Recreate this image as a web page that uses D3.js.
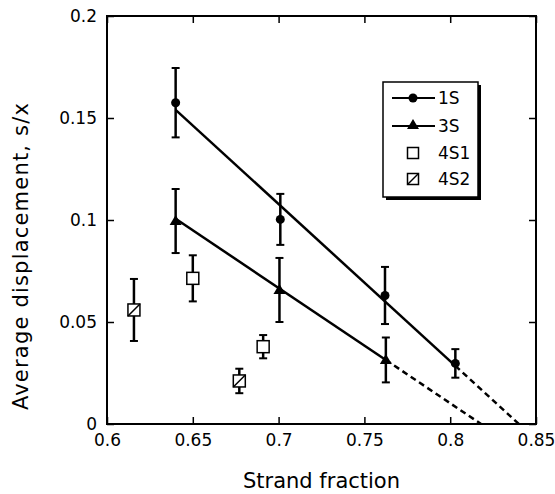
<!DOCTYPE html>
<html>
<head>
<meta charset="utf-8">
<script src="https://cdn.jsdelivr.net/npm/d3@7"></script>
<style>
  body { margin: 0; background: #fff; }
  svg { display: block; font-family: "DejaVu Sans", sans-serif; }
</style>
</head>
<body>
<svg id="chart" width="555" height="494"></svg>
<script>
// Data
const strand1S = [0.640, 0.701, 0.762, 0.803];
const disp1S = [0.1575, 0.1003, 0.063, 0.0297];
const err1S = [0.017, 0.0125, 0.014, 0.007];

const strand3S = [0.640, 0.7005, 0.7625];
const disp3S = [0.0995, 0.0657, 0.0314];
const err3S = [0.0157, 0.0157, 0.011];

const strand4S1 = [0.650, 0.691];
const disp4S1 = [0.0714, 0.0379];
const err4S1 = [0.0113, 0.0057];

const strand4S2 = [0.6157, 0.6771];
const disp4S2 = [0.0559, 0.0211];
const err4S2 = [0.0152, 0.006];

// fitted lines: solid part then dashed extrapolation to zero
const fit1SX = [0.640, 0.803, 0.840];
const fit1SY = [0.154, 0.0285, 0];
const fit3SX = [0.640, 0.7625, 0.818];
const fit3SY = [0.1006, 0.0314, 0];

const xTicks = [0.6, 0.65, 0.7, 0.75, 0.8, 0.85];
const yTicks = [0, 0.05, 0.1, 0.15, 0.2];
const legendNames = ['1S', '3S', '4S1', '4S2'];

(function() {
    const svg = d3.select('#chart');
    const margin = { top: 16, right: 19, bottom: 70, left: 107 };
    const plotWidth = 555 - margin.left - margin.right;
    const plotHeight = 494 - margin.top - margin.bottom;

    const g = svg.append('g')
        .attr('transform', `translate(${margin.left}, ${margin.top})`);

    const xScale = d3.scaleLinear().domain([0.6, 0.85]).range([0, plotWidth]);
    const yScale = d3.scaleLinear().domain([0, 0.2]).range([plotHeight, 0]);

    const fmt = d => d === 0 ? '0' : String(+d.toFixed(2));

    // axes, ticks pointing inward
    const styleAxis = (sel) => {
        sel.select('.domain').remove();
        sel.selectAll('.tick line').attr('stroke', '#000').attr('stroke-width', 1.5);
        sel.selectAll('text').attr('font-size', '17px').attr('fill', '#000')
            .attr('font-family', '"DejaVu Sans", sans-serif');
    };

    g.append('g')
        .attr('transform', `translate(0, ${plotHeight})`)
        .call(d3.axisBottom(xScale).tickValues(xTicks).tickFormat(fmt).tickSize(-7).tickPadding(10))
        .call(styleAxis);

    g.append('g')
        .call(d3.axisLeft(yScale).tickValues(yTicks).tickFormat(fmt).tickSize(-7).tickPadding(10))
        .call(styleAxis);

    g.append('g')
        .call(d3.axisTop(xScale).tickValues(xTicks).tickFormat('').tickSize(-7))
        .call(styleAxis);

    g.append('g')
        .attr('transform', `translate(${plotWidth}, 0)`)
        .call(d3.axisRight(yScale).tickValues(yTicks).tickFormat('').tickSize(-7))
        .call(styleAxis);

    g.append('rect')
        .attr('width', plotWidth)
        .attr('height', plotHeight)
        .attr('fill', 'none')
        .attr('stroke', '#000')
        .attr('stroke-width', 2);

    // axis labels
    g.append('text')
        .attr('x', plotWidth / 2)
        .attr('y', plotHeight + 64)
        .attr('text-anchor', 'middle')
        .attr('font-size', '21px')
        .text('Strand fraction');

    g.append('text')
        .attr('transform', 'rotate(-90)')
        .attr('x', -240)
        .attr('y', -79)
        .attr('text-anchor', 'middle')
        .attr('font-size', '21px')
        .attr('letter-spacing', '1.2px')
        .text('Average displacement, s/x');

    // fit lines
    const line = d3.line().x(d => xScale(d[0])).y(d => yScale(d[1]));
    [[fit1SX, fit1SY], [fit3SX, fit3SY]].forEach(([xs, ys]) => {
        g.append('path')
            .attr('d', line([[xs[0], ys[0]], [xs[1], ys[1]]]))
            .attr('fill', 'none').attr('stroke', '#000').attr('stroke-width', 2.5);
        g.append('path')
            .attr('d', line([[xs[1], ys[1]], [xs[2], ys[2]]]))
            .attr('fill', 'none').attr('stroke', '#000').attr('stroke-width', 2.5)
            .attr('stroke-dasharray', '6,4');
    });

    // error bars
    function errorBars(xs, ys, es) {
        xs.forEach((x, i) => {
            const cx = xScale(x);
            const y1 = yScale(ys[i] + es[i]);
            const y2 = yScale(ys[i] - es[i]);
            g.append('line').attr('x1', cx).attr('x2', cx).attr('y1', y1).attr('y2', y2)
                .attr('stroke', '#000').attr('stroke-width', 2.5);
            [y1, y2].forEach(y => {
                g.append('line').attr('x1', cx - 4).attr('x2', cx + 4).attr('y1', y).attr('y2', y)
                    .attr('stroke', '#000').attr('stroke-width', 2);
            });
        });
    }
    errorBars(strand1S, disp1S, err1S);
    errorBars(strand3S, disp3S, err3S);
    errorBars(strand4S1, disp4S1, err4S1);
    errorBars(strand4S2, disp4S2, err4S2);

    // marker drawers
    function circle(sel, cx, cy) {
        sel.append('circle').attr('cx', cx).attr('cy', cy).attr('r', 4.5).attr('fill', '#000');
    }
    function triangle(sel, cx, cy) {
        sel.append('path')
            .attr('d', `M${cx},${cy - 6}L${cx + 6},${cy + 4}L${cx - 6},${cy + 4}Z`)
            .attr('fill', '#000');
    }
    function square(sel, cx, cy, s) {
        sel.append('rect').attr('x', cx - s / 2).attr('y', cy - s / 2)
            .attr('width', s).attr('height', s)
            .attr('fill', '#fff').attr('stroke', '#000').attr('stroke-width', 1.5);
    }
    function hatched(sel, cx, cy, s) {
        square(sel, cx, cy, s);
        sel.append('line')
            .attr('x1', cx - s / 2).attr('y1', cy + s / 2)
            .attr('x2', cx + s / 2).attr('y2', cy - s / 2)
            .attr('stroke', '#000').attr('stroke-width', 1.5);
    }

    strand1S.forEach((x, i) => circle(g, xScale(x), yScale(disp1S[i])));
    strand3S.forEach((x, i) => triangle(g, xScale(x), yScale(disp3S[i])));
    strand4S1.forEach((x, i) => square(g, xScale(x), yScale(disp4S1[i]), 12));
    strand4S2.forEach((x, i) => hatched(g, xScale(x), yScale(disp4S2[i]), 12));

    // legend
    const legend = svg.append('g').attr('transform', 'translate(383, 82)');
    legend.append('rect').attr('x', 3).attr('y', 3).attr('width', 95).attr('height', 115).attr('fill', '#000');
    legend.append('rect').attr('width', 95).attr('height', 115)
        .attr('fill', '#fff').attr('stroke', '#000').attr('stroke-width', 1.5);

    const rowY = [16, 44, 71, 97];
    legendNames.forEach((name, i) => {
        const y = rowY[i];
        if (i < 2) {
            legend.append('line').attr('x1', 9).attr('x2', 52).attr('y1', y).attr('y2', y)
                .attr('stroke', '#000').attr('stroke-width', 2);
        }
        if (i === 0) circle(legend, 30, y);
        if (i === 1) triangle(legend, 30, y - 1);
        if (i === 2) square(legend, 30, y, 11);
        if (i === 3) hatched(legend, 30, y, 11);
        legend.append('text')
            .attr('x', 55)
            .attr('y', y)
            .attr('dominant-baseline', 'central')
            .attr('font-size', '17px')
            .text(name);
    });
})();
</script>
</body>
</html>
